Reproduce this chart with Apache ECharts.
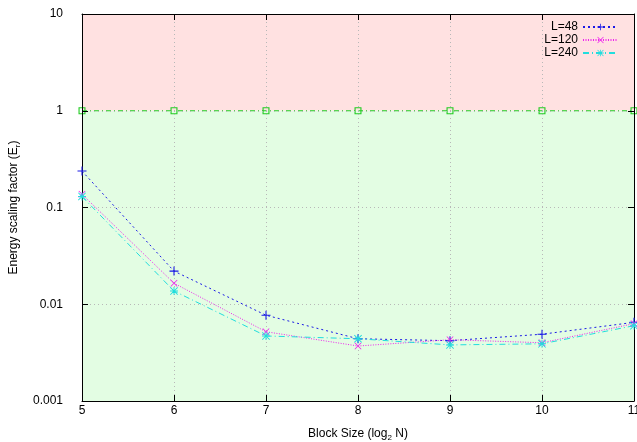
<!DOCTYPE html>
<html>
<head>
<meta charset="utf-8">
<script src="https://cdn.jsdelivr.net/npm/echarts@6/dist/echarts.min.js"></script>
<style>
  html, body { margin: 0; padding: 0; background: #fff; }
  #chart { width: 637px; height: 442px; }
</style>
</head>
<body>
<div id="chart"></div>
<script>
var myChart = echarts.init(document.getElementById('chart'));

// --- data ---
const blockSizes = [5, 6, 7, 8, 9, 10, 11];
const energyL48 = [0.238, 0.0220, 0.0077, 0.0044, 0.0042, 0.0049, 0.0065];
const energyL120 = [0.137, 0.0165, 0.0052, 0.0037, 0.0043, 0.0040, 0.0063];
const energyL240 = [0.130, 0.0137, 0.0047, 0.0044, 0.0038, 0.0039, 0.0060];
const breakEven = [1, 1, 1, 1, 1, 1, 1];
const seriesNames = ['L=48', 'L=120', 'L=240'];

const FONT = 'Liberation Sans, Arial, sans-serif';

// marker shapes (gnuplot style)
const plusPath = 'path://M4.4,0H5.6V4.4H10V5.6H5.6V10H4.4V5.6H0V4.4H4.4Z';
const crossPath = 'path://M0.8,0L5,4.2L9.2,0L10,0.8L5.8,5L10,9.2L9.2,10L5,5.8L0.8,10L0,9.2L4.2,5L0,0.8Z';
const starPath = 'path://M4.4,0H5.6V4.4H10V5.6H5.6V10H4.4V5.6H0V4.4H4.4Z' +
  'M0.8,0L5,4.2L9.2,0L10,0.8L5.8,5L10,9.2L9.2,10L5,5.8L0.8,10L0,9.2L4.2,5L0,0.8Z';
const squarePath = 'path://M0,0H10V10H0Z M1.6,1.6V8.4H8.4V1.6Z';

function pairs(vals) {
  return blockSizes.map((x, i) => [x, vals[i]]);
}

function lineSeries(name, vals, color, dash, symbol, size) {
  return {
    name: name,
    type: 'line',
    data: pairs(vals),
    symbol: symbol,
    symbolSize: size,
    showAllSymbol: true,
    lineStyle: { color: color, width: 1, type: dash },
    itemStyle: { color: color },
    emphasis: { disabled: true },
    z: 5
  };
}

function legendAt(name, top) {
  return {
    data: [name],
    right: 18,
    top: top,
    align: 'right',
    itemWidth: 35,
    itemHeight: 8,
    itemGap: 0,
    padding: 0,
    selectedMode: false,
    textStyle: { fontFamily: FONT, fontSize: 12, color: '#000', padding: [0, 0, 0, 0] }
  };
}

const axisName = {
  rich: {
    a: { fontFamily: FONT, fontSize: 12, color: '#000', lineHeight: 16 },
    s: { fontFamily: FONT, fontSize: 8, color: '#000', verticalAlign: 'bottom', lineHeight: 10 }
  }
};

const option = {
  animation: false,
  backgroundColor: '#fff',
  grid: { left: 82, right: 3, top: 14, bottom: 41, outerBoundsMode: 'none' },
  legend: [legendAt(seriesNames[0], 21), legendAt(seriesNames[1], 34), legendAt(seriesNames[2], 47)],
  xAxis: [
    {
      type: 'value', min: 5, max: 11, interval: 1, z: 3,
      name: '{a|Block Size (log}{s|2}{a| N)}',
      nameLocation: 'middle', nameGap: 25,
      nameTextStyle: axisName,
      axisLine: { show: true, onZero: false, lineStyle: { color: '#000', width: 1 } },
      axisTick: { inside: true, length: 6, lineStyle: { color: '#000' } },
      axisLabel: { fontFamily: FONT, fontSize: 12, color: '#000', margin: 4, hideOverlap: false },
      splitLine: { show: true, lineStyle: { color: '#b8b8b8', type: [1, 3] } }
    },
    {
      type: 'value', min: 5, max: 11, interval: 1, position: 'top', z: 3,
      axisLine: { show: true, onZero: false, lineStyle: { color: '#000', width: 1 } },
      axisTick: { inside: true, length: 6, lineStyle: { color: '#000' } },
      axisLabel: { show: false },
      splitLine: { show: false }
    }
  ],
  yAxis: [
    {
      type: 'log', logBase: 10, min: 0.001, max: 10, z: 3,
      name: '{a|Energy scaling factor (E}{s|r}{a|)}',
      nameLocation: 'middle', nameGap: 60, nameRotate: 90,
      nameTextStyle: axisName,
      axisLine: { show: true, onZero: false, lineStyle: { color: '#000', width: 1 } },
      axisTick: { inside: true, length: 6, lineStyle: { color: '#000' } },
      axisLabel: {
        fontFamily: FONT, fontSize: 12, color: '#000', margin: 19,
        formatter: function (v) { return String(parseFloat(v.toPrecision(6))); }
      },
      splitLine: { show: true, lineStyle: { color: '#b8b8b8', type: [1, 3] } }
    },
    {
      type: 'log', logBase: 10, min: 0.001, max: 10, position: 'right', z: 3,
      axisLine: { show: true, onZero: false, lineStyle: { color: '#000', width: 1 } },
      axisTick: { inside: true, length: 6, lineStyle: { color: '#000' } },
      axisLabel: { show: false },
      splitLine: { show: false }
    }
  ],
  series: [
    {
      name: 'breakEven',
      type: 'line',
      data: pairs(breakEven),
      symbol: squarePath,
      symbolSize: 7,
      showAllSymbol: true,
      lineStyle: { color: '#22cc22', width: 1, type: [5, 3, 1, 3] },
      itemStyle: { color: '#22cc22' },
      emphasis: { disabled: true },
      z: 1,
      markArea: {
        silent: true,
        itemStyle: { borderWidth: 0 },
        data: [
          [{ yAxis: 1, itemStyle: { color: '#ffe1e1' } }, { yAxis: 10 }],
          [{ yAxis: 0.001, itemStyle: { color: '#e3fde3' } }, { yAxis: 1 }]
        ]
      },
      markPoint: {
        silent: true,
        symbol: 'none',
        data: [
          {
            coord: [8, 3.1], value: 'Energy Increase',
            label: { show: true, formatter: 'Energy Increase', color: '#ee1111', fontFamily: FONT, fontSize: 12, position: 'inside' }
          },
          {
            coord: [8, 0.1], value: 'Energy Savings',
            label: { show: true, formatter: 'Energy Savings', color: '#117711', fontFamily: FONT, fontSize: 12, position: 'inside' }
          }
        ]
      }
    },
    lineSeries(seriesNames[0], energyL48, '#1a1ae6', [2, 3], plusPath, 9),
    lineSeries(seriesNames[1], energyL120, '#ee22ee', [1, 1.5], crossPath, 7),
    lineSeries(seriesNames[2], energyL240, '#22dddd', [6, 3, 1, 3], starPath, 8)
  ]
};

myChart.setOption(option);

window.addEventListener('resize', function () {
  myChart.resize();
});
</script>
</body>
</html>
